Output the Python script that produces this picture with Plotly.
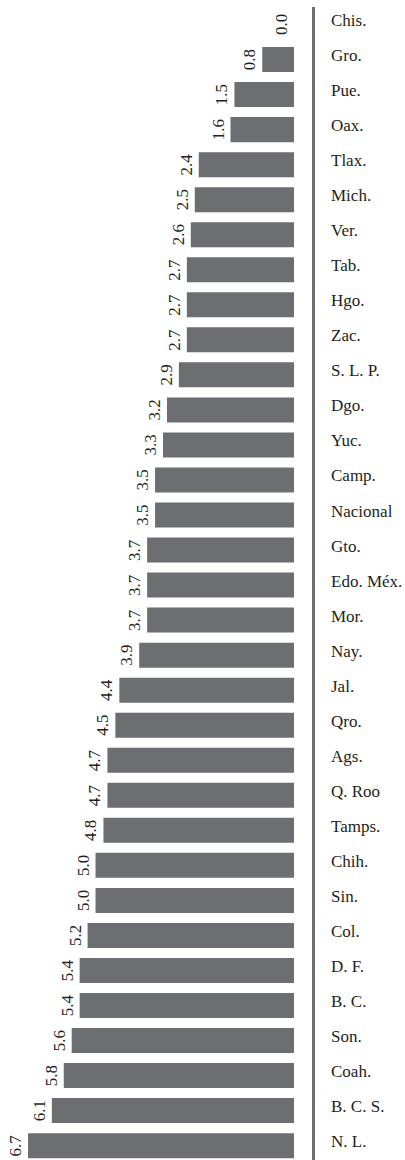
import plotly.graph_objects as go

states = ["Chis.", "Gro.", "Pue.", "Oax.", "Tlax.", "Mich.", "Ver.", "Tab.", "Hgo.", "Zac.",
          "S. L. P.", "Dgo.", "Yuc.", "Camp.", "Nacional", "Gto.", "Edo. Méx.", "Mor.", "Nay.",
          "Jal.", "Qro.", "Ags.", "Q. Roo", "Tamps.", "Chih.", "Sin.", "Col.", "D. F.", "B. C.",
          "Son.", "Coah.", "B. C. S.", "N. L."]
values = [0.0, 0.8, 1.5, 1.6, 2.4, 2.5, 2.6, 2.7, 2.7, 2.7,
          2.9, 3.2, 3.3, 3.5, 3.5, 3.7, 3.7, 3.7, 3.9,
          4.4, 4.5, 4.7, 4.7, 4.8, 5.0, 5.0, 5.2, 5.4, 5.4,
          5.6, 5.8, 6.1, 6.7]
value_labels = [f"{v:.1f}" for v in values]

BAR = "#6d6e71"
TXT = "#231f20"
FONT = "Liberation Serif"

# zero-length bars get their label as an annotation (plotly would put it on the wrong side)
bar_text = [t if v > 0 else "" for t, v in zip(value_labels, values)]

fig = go.Figure(go.Bar(
    x=values, y=states, orientation="h",
    marker=dict(color=BAR, line=dict(width=0)),
    width=0.714,
    text=bar_text, textposition="outside", textangle=-90,
    textfont=dict(family=FONT, size=17, color=TXT),
    constraintext="none", cliponaxis=False,
    hoverinfo="skip",
))

for s, v, t in zip(states, values, value_labels):
    if v <= 0:
        fig.add_annotation(
            x=v, y=s, text=t, showarrow=False, textangle=-90,
            xanchor="right", yanchor="middle", xshift=-1,
            font=dict(family=FONT, size=17, color=TXT),
        )

for s in states:
    fig.add_annotation(
        x=1, xref="paper", y=s, yref="y", text=s, showarrow=False,
        xanchor="left", yanchor="middle", xshift=17, yshift=4,
        font=dict(family=FONT, size=17, color=TXT),
    )

fig.update_layout(
    width=405, height=1160,
    margin=dict(l=0, r=93, t=7, b=0, pad=0),
    paper_bgcolor="white", plot_bgcolor="white",
    showlegend=False,
)
fig.update_xaxes(range=[7.406, -0.453], visible=False, showgrid=False, zeroline=False)
fig.update_yaxes(
    type="category", range=[32.41, -0.5], side="right",
    showline=True, linecolor=BAR, linewidth=3,
    ticks="", showticklabels=False, showgrid=False, zeroline=False,
)

fig.write_html("out.html", config={"displayModeBar": False},
               post_script="document.body.style.margin='0';")
